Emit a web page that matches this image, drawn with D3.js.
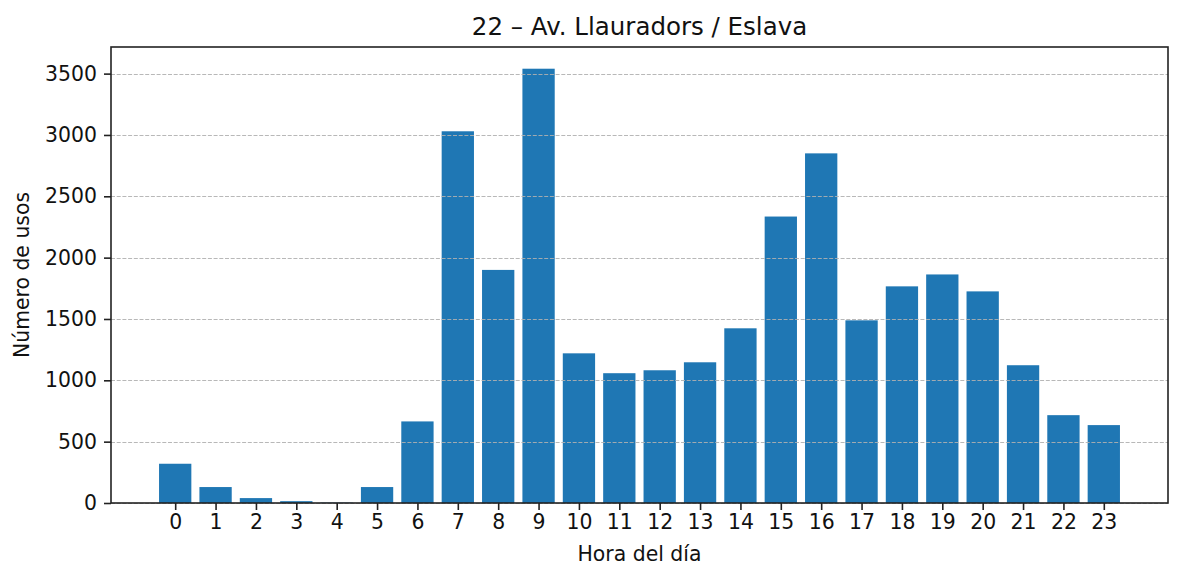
<!DOCTYPE html>
<html lang="es">
<head>
  <meta charset="utf-8">
  <title>22 – Av. Llauradors / Eslava</title>
  <script src="https://cdn.jsdelivr.net/npm/d3@7"></script>
  <style>
    body { margin: 0; background: #fff; }
    svg { display: block; font-family: "DejaVu Sans", sans-serif; }
  </style>
</head>
<body>
<svg id="chart" width="1184" height="581"></svg>
<script>
  // data
  var hours = d3.range(0, 24);
  var usos = [320, 130, 40, 15, 3, 130, 665, 3030, 1900, 3540, 1220, 1058,
              1082, 1147, 1424, 2335, 2850, 1489, 1766, 1863, 1725, 1123, 716, 635];
  var yTicks = [0, 500, 1000, 1500, 2000, 2500, 3000, 3500];

  var titleText = "22 – Av. Llauradors / Eslava",
      xLabel = "Hora del día",
      yLabel = "Número de usos";

  // plot box
  var plotL = 111, plotR = 1168, plotT = 47, plotB = 503;
  var tickFont = "20.4px", titleFont = "24.5px";

  var svg = d3.select("#chart");

  // x scale: matplotlib-like, bar width 0.8 plus 5% margins
  var span = (23 + 0.4) - (-0.4),
      pad = span * 0.05;
  var x = d3.scaleLinear()
    .domain([-0.4 - pad, 23.4 + pad])
    .range([plotL, plotR]);

  var y = d3.scaleLinear()
    .domain([0, d3.max(usos) * 1.05])
    .range([plotB, plotT]);

  // bars
  svg.append("g").selectAll("rect")
    .data(hours)
    .enter().append("rect")
    .attr("x", h => x(h - 0.4))
    .attr("width", x(0.8) - x(0))
    .attr("y", h => y(usos[h]))
    .attr("height", h => y(0) - y(usos[h]))
    .attr("fill", "#1f77b4");

  // grid on top of bars
  svg.append("g").selectAll("line")
    .data(yTicks)
    .enter().append("line")
    .attr("x1", plotL).attr("x2", plotR)
    .attr("y1", d => Math.round(y(d)) + 0.5)
    .attr("y2", d => Math.round(y(d)) + 0.5)
    .attr("stroke", "#b0b0b0")
    .attr("stroke-width", 0.9)
    .attr("stroke-dasharray", "4,1.7");

  // axes
  var xAxis = d3.axisBottom(x).tickValues(hours).tickSize(7).tickPadding(5).tickFormat(d3.format("d"));
  var yAxis = d3.axisLeft(y).tickValues(yTicks).tickSize(7).tickPadding(7).tickFormat(d3.format("d"));

  var gx = svg.append("g").attr("transform", "translate(0," + plotB + ")").call(xAxis);
  var gy = svg.append("g").attr("transform", "translate(" + plotL + ",0)").call(yAxis);

  [gx, gy].forEach(function(g) {
    g.select(".domain").remove();
    g.selectAll(".tick line").attr("stroke", "#222").attr("stroke-width", 1.6);
    g.selectAll(".tick text")
      .attr("fill", "#111")
      .style("font-size", tickFont)
      .style("font-family", "DejaVu Sans, sans-serif");
  });

  // frame
  svg.append("rect")
    .attr("x", plotL).attr("y", plotT)
    .attr("width", plotR - plotL).attr("height", plotB - plotT)
    .attr("fill", "none")
    .attr("stroke", "#222")
    .attr("stroke-width", 1.6);

  // texts
  svg.append("text")
    .attr("x", (plotL + plotR) / 2).attr("y", 35)
    .attr("text-anchor", "middle")
    .style("font-size", titleFont)
    .attr("fill", "#111")
    .text(titleText);

  svg.append("text")
    .attr("x", (plotL + plotR) / 2).attr("y", 561)
    .attr("text-anchor", "middle")
    .style("font-size", tickFont)
    .attr("fill", "#111")
    .text(xLabel);

  svg.append("text")
    .attr("transform", "translate(29," + (plotT + plotB) / 2 + ") rotate(-90)")
    .attr("text-anchor", "middle")
    .style("font-size", tickFont)
    .attr("fill", "#111")
    .text(yLabel);
</script>
</body>
</html>
